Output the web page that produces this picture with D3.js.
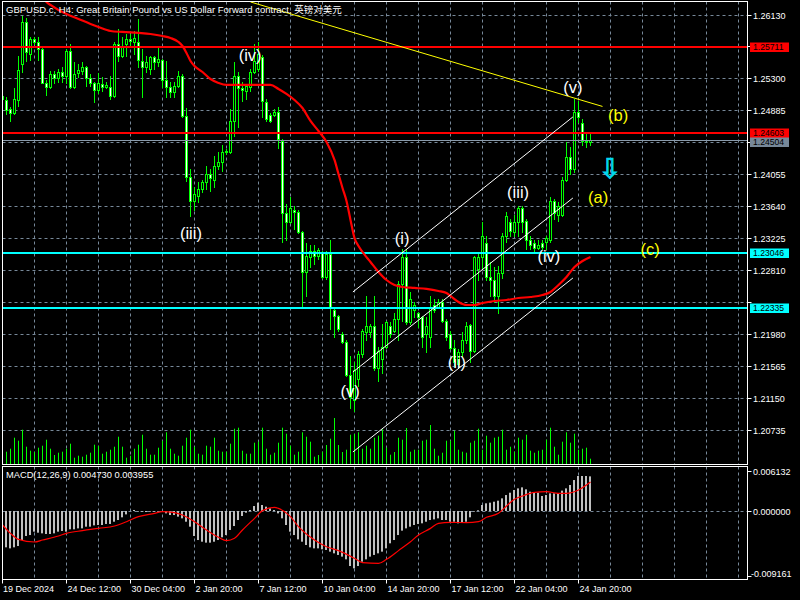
<!DOCTYPE html>
<html><head><meta charset="utf-8">
<script src="https://cdn.jsdelivr.net/npm/d3@7"></script>
<style>html,body{margin:0;padding:0;background:#000;}svg{display:block;}</style>
</head><body>
<svg id="c" width="800" height="600"></svg>
<script>
// ---------------- DATA ----------------
const titleText = "GBPUSD.c, H4:  Great Britain Pound vs US Dollar Forward contract, 英镑对美元";
const macdTitle = "MACD(12,26,9) 0.004730 0.003955";

const openP = [
1.25028,1.25015,1.24898,1.24859,1.25015,1.25482,1.26027,1.25612,1.25806,1.25767,
1.25689,1.25248,1.25184,1.25352,1.25300,1.25378,1.25326,1.25651,1.25184,1.25365,
1.25391,1.25443,1.25300,1.25236,1.25145,1.25223,1.25184,1.25184,1.25067,1.25741,
1.25586,1.25741,1.25806,1.25767,1.25767,1.25521,1.25443,1.25417,1.25573,1.25508,
1.25534,1.25287,1.25184,1.25119,1.25197,1.25326,1.24808,1.24029,1.23705,1.23770,
1.23861,1.23952,1.24055,1.23990,1.24159,1.24211,1.24341,1.24341,1.24743,1.25326,
1.25171,1.25132,1.25184,1.25378,1.25417,1.25573,1.24989,1.24833,1.24833,1.24872,
1.24483,1.23562,1.23433,1.23601,1.23575,1.23303,1.22797,1.22979,1.23057,1.22992,
1.23044,1.22732,1.23018,1.22304,1.22214,1.21980,1.21889,1.21461,1.21137,1.21397,
1.21721,1.22006,1.22006,1.22084,1.21552,1.21656,1.21824,1.22084,1.22019,1.22175,
1.22629,1.22979,1.22136,1.22304,1.22265,1.22201,1.21980,1.21954,1.22369,1.22343,
1.22395,1.22149,1.21980,1.21811,1.21591,1.21747,1.21915,1.22097,1.21760,1.22823,
1.22979,1.23173,1.22732,1.22693,1.22473,1.22784,1.23251,1.23433,1.23303,1.23433,
1.23627,1.23446,1.23212,1.23173,1.23108,1.23173,1.23186,1.23212,1.23705,1.23536,
1.23536,1.23990,1.24276,1.24120,1.24872,1.24717,1.24483,1.24470];
const highP = [
1.25093,1.25054,1.24924,1.25171,1.25586,1.26105,1.26079,1.25832,1.25832,1.25832,
1.25702,1.25287,1.25391,1.25391,1.25417,1.25443,1.25677,1.25741,1.25508,1.25482,
1.25508,1.25456,1.25352,1.25261,1.25365,1.25313,1.25261,1.25326,1.25767,1.25936,
1.25832,1.25871,1.25871,1.25910,1.26066,1.25677,1.25586,1.25586,1.25586,1.25702,
1.25547,1.25521,1.25261,1.25261,1.25391,1.25352,1.24911,1.24120,1.23887,1.23952,
1.23990,1.24159,1.24120,1.24289,1.24341,1.24444,1.24380,1.24898,1.25508,1.25378,
1.25261,1.25223,1.25417,1.25741,1.25767,1.25599,1.25028,1.24859,1.24898,1.24924,
1.24509,1.23666,1.23757,1.23640,1.23601,1.23316,1.23173,1.23147,1.23147,1.23096,
1.23057,1.23057,1.23212,1.22330,1.22239,1.22006,1.21915,1.21695,1.21617,1.21760,
1.22045,1.22473,1.22110,1.22473,1.21824,1.22110,1.22149,1.22136,1.22265,1.22668,
1.23083,1.23083,1.22525,1.22395,1.22278,1.22214,1.22201,1.22473,1.22434,1.22434,
1.22434,1.22175,1.22019,1.21915,1.21786,1.22006,1.22136,1.22110,1.22992,1.23044,
1.23433,1.23251,1.22914,1.22849,1.22862,1.23290,1.23575,1.23472,1.23536,1.23640,
1.23640,1.23472,1.23251,1.23212,1.23212,1.23212,1.23251,1.23757,1.23731,1.23692,
1.24029,1.24470,1.24418,1.25028,1.25002,1.24769,1.24574,1.24600];
const lowP = [
1.24989,1.24846,1.24743,1.24846,1.24937,1.25378,1.25521,1.25534,1.25741,1.25534,
1.25236,1.25080,1.25171,1.25248,1.25261,1.25261,1.25248,1.25171,1.25171,1.25313,
1.25352,1.25197,1.25197,1.24989,1.25106,1.25132,1.25171,1.25028,1.25054,1.25521,
1.25573,1.25586,1.25715,1.25612,1.25443,1.25054,1.25378,1.25352,1.25417,1.25456,
1.25184,1.25054,1.25054,1.25054,1.25184,1.24795,1.23965,1.23511,1.23601,1.23692,
1.23822,1.23861,1.23835,1.23887,1.24120,1.24094,1.24315,1.24328,1.24548,1.24665,
1.25002,1.25028,1.25132,1.25365,1.25391,1.24795,1.24743,1.24730,1.24808,1.24405,
1.23186,1.23212,1.23420,1.23342,1.23290,1.22343,1.22473,1.22849,1.22888,1.22953,
1.22719,1.22706,1.22045,1.21954,1.22019,1.21876,1.21448,1.21033,1.20994,1.21306,
1.21682,1.21915,1.21954,1.21526,1.21371,1.21487,1.21811,1.21954,1.22006,1.21915,
1.22149,1.22110,1.22110,1.22201,1.22071,1.21824,1.21747,1.21824,1.22278,1.22330,
1.22136,1.21915,1.21786,1.21565,1.21552,1.21695,1.21876,1.21617,1.21747,1.22693,
1.22823,1.22693,1.22473,1.22395,1.22265,1.22719,1.23186,1.23251,1.23251,1.23251,
1.23303,1.23083,1.23083,1.23057,1.23083,1.23083,1.23083,1.23186,1.23472,1.23446,
1.23511,1.23965,1.24055,1.24081,1.24730,1.24444,1.24418,1.24444];
const closeP = [
1.25067,1.24885,1.24859,1.25028,1.25404,1.26027,1.25638,1.25806,1.25767,1.25689,
1.25248,1.25184,1.25352,1.25300,1.25378,1.25326,1.25651,1.25184,1.25352,1.25404,
1.25443,1.25300,1.25236,1.25145,1.25236,1.25184,1.25210,1.25067,1.25741,1.25586,
1.25715,1.25806,1.25780,1.25819,1.25534,1.25443,1.25508,1.25573,1.25508,1.25547,
1.25287,1.25184,1.25119,1.25197,1.25326,1.24808,1.24029,1.23705,1.23796,1.23861,
1.23952,1.24055,1.24016,1.24159,1.24211,1.24341,1.24354,1.24743,1.25326,1.25171,
1.25145,1.25197,1.25378,1.25521,1.25612,1.25002,1.24769,1.24743,1.24872,1.24509,
1.23562,1.23433,1.23627,1.23575,1.23303,1.22797,1.22992,1.23057,1.22992,1.23070,
1.22732,1.23018,1.22330,1.22214,1.22045,1.21889,1.21461,1.21163,1.21526,1.21721,
1.22019,1.22084,1.22084,1.21552,1.21760,1.21824,1.22136,1.21980,1.22175,1.22629,
1.22979,1.22136,1.22434,1.22369,1.22201,1.21954,1.22084,1.22343,1.22304,1.22395,
1.22149,1.21954,1.21811,1.21617,1.21747,1.21915,1.22084,1.21760,1.22979,1.22979,
1.23251,1.22732,1.22693,1.22473,1.22784,1.23251,1.23511,1.23316,1.23433,1.23627,
1.23433,1.23212,1.23147,1.23108,1.23147,1.23121,1.23225,1.23705,1.23562,1.23640,
1.23990,1.24276,1.24120,1.24872,1.24795,1.24483,1.24470,1.24504];
const volumes = [
1200,1230,1530,2630,2330,3430,1730,1330,1200,1630,
1830,2430,1530,900,1130,1230,1530,2030,630,830,
730,930,1130,1930,1800,1030,1230,1430,1730,2730,
1730,630,830,1530,1930,2930,1530,930,930,1630,
2330,3170,1530,1030,830,1830,2630,3430,1730,1030,
930,1830,1730,2630,1330,1230,1230,2030,3530,3630,
1330,1030,1030,2130,2230,3630,1530,930,1130,2130,
3630,3030,1830,930,1230,3170,2730,2230,730,900,
1230,1900,2530,4600,1900,1200,1430,2930,3000,3170,
1530,1830,1530,2630,2830,3470,1630,930,1200,2630,
2430,3600,1230,1430,1430,2330,2430,3900,1530,830,
1130,2330,2330,3330,1430,1230,1130,2130,2330,3530,
1430,2830,2130,2630,2730,3430,1430,1730,1230,2630,
2430,2930,1330,1130,1330,1430,2430,3630,1730,930,
2230,3170,2130,3030,1430,1530,1630,530];
const macdMain = [
-0.00441,-0.00496,-0.00510,-0.00496,-0.00478,-0.00396,-0.00341,-0.00328,-0.00282,-0.00296,
-0.00305,-0.00314,-0.00314,-0.00305,-0.00282,-0.00273,-0.00282,-0.00250,-0.00250,-0.00237,
-0.00237,-0.00214,-0.00214,-0.00196,-0.00191,-0.00191,-0.00177,-0.00177,-0.00146,-0.00123,
-0.00086,-0.00046,-0.00002,0.00014,-0.00009,-0.00009,-0.00014,-0.00009,-0.00009,-0.00009,
-0.00005,-0.00032,-0.00055,-0.00055,-0.00077,-0.00100,-0.00146,-0.00214,-0.00341,-0.00396,
-0.00419,-0.00432,-0.00432,-0.00419,-0.00396,-0.00359,-0.00328,-0.00259,-0.00205,-0.00123,
-0.00068,-0.00023,0.00014,0.00068,0.00114,0.00082,0.00059,0.00036,0.00014,-0.00032,
-0.00100,-0.00191,-0.00282,-0.00328,-0.00387,-0.00419,-0.00464,-0.00496,-0.00510,-0.00510,
-0.00523,-0.00532,-0.00555,-0.00578,-0.00600,-0.00623,-0.00660,-0.00751,-0.00783,-0.00751,
-0.00692,-0.00660,-0.00623,-0.00600,-0.00578,-0.00555,-0.00510,-0.00441,-0.00396,-0.00328,
-0.00268,-0.00237,-0.00214,-0.00191,-0.00177,-0.00168,-0.00146,-0.00123,-0.00114,-0.00100,
-0.00123,-0.00123,-0.00146,-0.00146,-0.00168,-0.00159,-0.00146,-0.00086,-0.00009,0.00010,
0.00082,0.00105,0.00114,0.00127,0.00141,0.00173,0.00218,0.00250,0.00287,0.00309,
0.00323,0.00296,0.00264,0.00250,0.00250,0.00205,0.00218,0.00241,0.00241,0.00241,
0.00278,0.00309,0.00355,0.00423,0.00478,0.00478,0.00478,0.004730];
const signalIdx = [0,2,4,8,10,14,16,20,24,28,31,34,38,40,43,45,48,51,54,56,58,60,63,65,68,69,72,74,78,81,84,88,90,94,96,99,102,104,107,109,112,116,119,121,124,126,128,130,133,136,139,141,144,147];
const signalVal = [-0.00191,-0.00305,-0.00387,-0.00423,-0.00396,-0.00341,-0.00305,-0.00268,-0.00237,-0.00205,-0.00146,-0.00077,-0.00032,-0.00009,-0.00023,-0.00055,-0.00146,-0.00259,-0.00359,-0.00405,-0.00373,-0.00259,-0.00100,0.00005,0.00050,0.00036,-0.00077,-0.00214,-0.00396,-0.00487,-0.00541,-0.00646,-0.00705,-0.00714,-0.00660,-0.00541,-0.00419,-0.00328,-0.00237,-0.00168,-0.00155,-0.00159,-0.00146,-0.00086,-0.00032,0.00068,0.00159,0.00205,0.00255,0.00264,0.00241,0.00241,0.00287,0.003955];
const maIdx = [10,11,12,14,16,19,22,24,27,30,34,37,40,42,44,45,46,47,48,50,52,54,56,60,64,67,69,71,73,75,77,79,81,83,84,85,86,87,88,89,90,92,94,96,98,100,103,106,109,111,112,114,116,118,120,123,126,129,132,135,137,139,141,143,145,147];
const maVal = [1.26364,1.26299,1.26260,1.26195,1.26143,1.26079,1.26014,1.25975,1.25923,1.25910,1.25897,1.25884,1.25858,1.25832,1.25780,1.25728,1.25638,1.25534,1.25469,1.25391,1.25300,1.25249,1.25223,1.25223,1.25223,1.25223,1.25171,1.25106,1.25028,1.24924,1.24756,1.24626,1.24483,1.24250,1.24068,1.23887,1.23718,1.23472,1.23238,1.23134,1.23057,1.22927,1.22797,1.22693,1.22629,1.22603,1.22590,1.22577,1.22551,1.22525,1.22486,1.22408,1.22369,1.22369,1.22395,1.22421,1.22434,1.22460,1.22473,1.22499,1.22538,1.22629,1.22732,1.22862,1.22940,1.22992];

const priceTicks = [1.26130,1.25715,1.25300,1.24885,1.24470,1.24055,1.23640,1.23225,1.22810,1.22395,1.21980,1.21565,1.21150,1.20735];
const macdTicks = [0.006132, 0.000000, -0.009161];
const timeTickIdx = [0,16,32,48,64,80,96,112,128,144];
const timeTickLabels = ["19 Dec 2024","24 Dec 12:00","30 Dec 04:00","2 Jan 20:00","7 Jan 12:00","10 Jan 04:00","14 Jan 20:00","17 Jan 12:00","22 Jan 04:00","24 Jan 20:00"];

const hLinePrices = [1.25711, 1.24603, 1.23046, 1.22335];
const hLineColors = ["#ff0000","#ff0000","#00ffff","#00ffff"];
const bidPrice = 1.24504;

const trendIdx = [62, 150];
const trendVal = [1.26299, 1.24944];
const chanIdx = [87.6, 142.6];
const chanUpper = [1.22538, 1.24808];
const chanMid = [1.21500, 1.23757];
const chanLower = [1.20463, 1.22719];

const waveText = ["(iii)","(iv)","(v)","(i)","(ii)","(iii)","(iv)","(v)","(b)","(a)","(c)"];
const waveIdx = [47.1, 61.9, 86.9, 99.9, 113.6, 128.9, 136.6, 142.6, 153.9, 148.9, 161.9];
const wavePrice = [1.23303, 1.25612, 1.21254, 1.23238, 1.21630, 1.23835, 1.23005, 1.25197, 1.24833, 1.23770, 1.23096];
const waveColor = ["#fff","#fff","#fff","#fff","#fff","#fff","#fff","#fff","#ffff00","#ffff00","#ffff00"];
const arrowIdx = 151.9, arrowPrice = 1.24133;

// ---------------- LAYOUT ----------------
const svg = d3.select("#c");
const FONT = "'Liberation Sans', Arial, 'Noto Sans CJK SC', sans-serif";
const L = 2.5, R = 747.5, T = 1.5, MB = 464.5, ST = 466.5, SB = 579.5;

svg.append("rect").attr("width",800).attr("height",600).attr("fill","#000");

const x = d3.scaleLinear().domain([0,1]).range([2.5,6.5]);
const y = d3.scaleLinear().domain([1.20722,1.26130]).range([432,15]);
const yv = d3.scaleLinear().domain([0,6000]).range([464,404]);
const ym = d3.scaleLinear().domain([-0.009161,0.006132]).range([578.1,466.1]);
const px = v => Math.round(v - 0.5) + 0.5;

const defs = svg.append("defs");
defs.append("clipPath").attr("id","cm").append("rect").attr("x",L).attr("y",T).attr("width",R-L).attr("height",MB-T);
defs.append("clipPath").attr("id","cs").append("rect").attr("x",L).attr("y",ST).attr("width",R-L).attr("height",SB-ST);

const main = svg.append("g").attr("clip-path","url(#cm)");
const sub = svg.append("g").attr("clip-path","url(#cs)");

const gridColor = "#778899";
const vIdx = d3.range(8, 186, 8);
[main, sub].forEach((g, k) => {
  g.selectAll(null).data(vIdx).join("line")
    .attr("x1", d => x(d)).attr("x2", d => x(d))
    .attr("y1", k ? ST : T).attr("y2", k ? SB : MB)
    .attr("stroke", gridColor).attr("stroke-dasharray","3,3").attr("stroke-width",1);
});
main.selectAll(null).data(priceTicks).join("line")
  .attr("x1", L).attr("x2", R)
  .attr("y1", d => px(y(d))).attr("y2", d => px(y(d)))
  .attr("stroke", gridColor).attr("stroke-dasharray","3,3");
sub.append("line").attr("x1",L).attr("x2",R).attr("y1",px(ym(0))).attr("y2",px(ym(0)))
  .attr("stroke", gridColor).attr("stroke-dasharray","3,3");

// volumes
main.selectAll(null).data(volumes).join("line")
  .attr("x1",(d,i)=>x(i)).attr("x2",(d,i)=>x(i))
  .attr("y1", yv(0)).attr("y2", d => yv(d))
  .attr("stroke","#00ff00").attr("stroke-width",1);

// candles
const idx = d3.range(openP.length);
main.selectAll(null).data(idx).join("line")
  .attr("x1", i => x(i)).attr("x2", i => x(i))
  .attr("y1", i => px(y(highP[i])) - 0.5).attr("y2", i => px(y(lowP[i])) + 0.5)
  .attr("stroke","#00ff00").attr("stroke-width",1);
main.selectAll(null).data(idx).join("rect")
  .attr("x", i => x(i) - 1).attr("width", 2)
  .attr("y", i => px(y(Math.max(openP[i], closeP[i]))))
  .attr("height", i => Math.max(0, px(y(Math.min(openP[i], closeP[i]))) - px(y(Math.max(openP[i], closeP[i])))))
  .attr("fill", i => closeP[i] >= openP[i] ? "#000" : "#fff")
  .attr("stroke","#00ff00").attr("stroke-width",1);

// horizontal lines
main.append("line").attr("x1",L).attr("x2",R).attr("y1",px(y(bidPrice))).attr("y2",px(y(bidPrice)))
  .attr("stroke","#8a9aaa").attr("stroke-width",1);
main.selectAll(null).data(hLinePrices).join("line")
  .attr("x1",L).attr("x2",R).attr("y1",d=>Math.round(y(d))).attr("y2",d=>Math.round(y(d)))
  .attr("stroke",(d,i)=>hLineColors[i]).attr("stroke-width",2);

// moving average
const maLine = d3.line().x(d => x(d[0])).y(d => y(d[1])).curve(d3.curveMonotoneX);
main.append("path").attr("d", maLine(maIdx.map((d,i)=>[d, maVal[i]])))
  .attr("fill","none").attr("stroke","#ff0000").attr("stroke-width",2.2);

// trend + channel
const seg = (xs, ys) => d3.line().x(d=>x(d[0])).y(d=>y(d[1]))(xs.map((d,i)=>[d, ys[i]]));
main.append("path").attr("d", seg(trendIdx, trendVal)).attr("stroke","#ffff00").attr("stroke-width",1).attr("fill","none");
[chanUpper, chanMid, chanLower].forEach(c => {
  main.append("path").attr("d", seg(chanIdx, c)).attr("stroke","#fff").attr("stroke-width",1).attr("fill","none");
});

// wave labels
main.selectAll(null).data(waveText).join("text")
  .attr("x",(d,i)=>x(waveIdx[i])).attr("y",(d,i)=>y(wavePrice[i]))
  .attr("text-anchor","middle").attr("dominant-baseline","central")
  .attr("font-family",FONT).attr("font-size",16.5)
  .attr("fill",(d,i)=>waveColor[i]).text(d=>d);
main.append("text").attr("x",x(arrowIdx)).attr("y",y(arrowPrice))
  .attr("text-anchor","middle").attr("dominant-baseline","central")
  .attr("font-family","'DejaVu Sans'").attr("font-size",27)
  .attr("fill","#00d8f0").attr("stroke","#00d8f0").attr("stroke-width",0.9).text("⇩");

// MACD histogram & signal
sub.selectAll(null).data(macdMain).join("rect")
  .attr("x",(d,i)=>x(i)-1.5).attr("width",2)
  .attr("y", d => d >= 0 ? ym(d) : ym(0))
  .attr("height", d => Math.abs(ym(d) - ym(0)))
  .attr("fill","#c0c0c0");
const sigLine = d3.line().x(d=>x(d[0])).y(d=>ym(d[1])).curve(d3.curveMonotoneX);
sub.append("path").attr("d", sigLine(signalIdx.map((d,i)=>[d, signalVal[i]])))
  .attr("fill","none").attr("stroke","#ff0000").attr("stroke-width",1.2);

// frames
const fr = svg.append("g").attr("stroke","#fff").attr("stroke-width",1).attr("fill","none");
fr.append("rect").attr("x",L).attr("y",T).attr("width",R-L).attr("height",MB-T);
fr.append("rect").attr("x",L).attr("y",ST).attr("width",R-L).attr("height",SB-ST);

// right axis (price)
const ax = svg.append("g").attr("font-family",FONT).attr("font-size",9).attr("fill","#fff");
const boxPrices = hLinePrices.concat([bidPrice]);
priceTicks.forEach(t => {
  const yy = px(y(t));
  ax.append("line").attr("x1",R).attr("x2",R+4).attr("y1",yy).attr("y2",yy).attr("stroke","#fff");
  // labels hidden behind a price box are not drawn (they are covered in the reference)
  const covered = boxPrices.some(b => Math.abs(y(b) - y(t)) < 7);
  if (!covered) ax.append("text").attr("x",753).attr("y",yy+3.5).text(t.toFixed(5));
});
// price boxes
const boxes = hLinePrices.map((p,i)=>({p, c:hLineColors[i]})).concat([{p:bidPrice, c:"#778899"}]);
boxes.forEach(b => {
  const yy = Math.round(y(b.p)) + (b.p === bidPrice ? 2 : 0);
  ax.append("rect").attr("x",750).attr("y",yy-4.5).attr("width",39).attr("height",9.5).attr("fill",b.c);
  ax.append("text").attr("x",753).attr("y",yy+3.2).attr("font-size",8.6).attr("fill","#000").text(b.p.toFixed(5));
});
// macd axis
macdTicks.forEach(t => {
  const yy = Math.min(Math.max(px(ym(t)), 471.5), 576.5);
  ax.append("line").attr("x1",R).attr("x2",R+4).attr("y1",yy).attr("y2",yy).attr("stroke","#fff");
  const ty = t > 0 ? 475 : (t < 0 ? 577 : yy + 3.5);
  ax.append("text").attr("x", t < 0 ? 751 : 753).attr("y",ty).text(t.toFixed(6));
});
// time axis
timeTickIdx.forEach((t,k) => {
  ax.append("line").attr("x1",x(t)).attr("x2",x(t)).attr("y1",SB).attr("y2",SB+4).attr("stroke","#fff");
  ax.append("text").attr("x",x(t)+ (k===0?0.5:1)).attr("y",592).text(timeTickLabels[k]);
});

// titles
svg.append("text").attr("x",6).attr("y",13).attr("font-family",FONT).attr("font-size",9.5).attr("fill","#fff").text(titleText);
svg.append("text").attr("x",6).attr("y",478).attr("font-family",FONT).attr("font-size",9.3).attr("fill","#fff").text(macdTitle);
</script>
</body></html>
